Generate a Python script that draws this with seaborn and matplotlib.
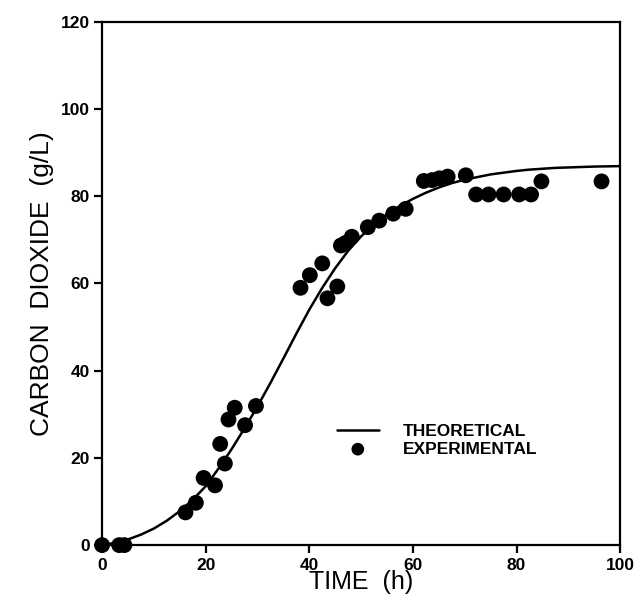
import numpy as np
import pandas as pd
import matplotlib
matplotlib.use("Agg")
import matplotlib.pyplot as plt
import seaborn as sns

# -----------------------------
# Data
# -----------------------------
exp_time = [0, 3.3, 4.3, 16.1, 18.1, 19.6, 21.8, 22.8, 23.7, 24.4, 25.6, 27.6, 29.7,
            38.3, 40.1, 42.5, 43.5, 45.4, 46.1, 47.0, 48.2, 51.3, 53.5, 56.2, 58.6,
            62.1, 63.7, 65.1, 66.7, 70.2, 72.2, 74.6, 77.5, 80.5, 82.8, 84.8, 96.4]
exp_co2 = [0, 0, 0, 7.5, 9.7, 15.4, 13.7, 23.2, 18.7, 28.8, 31.5, 27.5, 31.9,
           59.0, 61.9, 64.6, 56.6, 59.3, 68.7, 69.3, 70.7, 72.9, 74.4, 76.0, 77.1,
           83.5, 83.7, 84.1, 84.5, 84.8, 80.4, 80.4, 80.4, 80.4, 80.4, 83.4, 83.4]

theo_time = [0, 2.5, 5, 7.5, 10, 12.5, 15, 17.5, 20, 22.5, 25, 27.5, 30, 32.5, 35,
             37.5, 40, 42.5, 45, 47.5, 50, 52.5, 55, 57.5, 60, 62.5, 65, 67.5, 70,
             72.5, 75, 77.5, 80, 82.5, 85, 87.5, 90, 92.5, 95, 97.5, 100]
theo_co2 = [0, 0.5, 1.3, 2.4, 3.8, 5.6, 7.8, 10.4, 13.5, 17.6, 22.0, 26.8, 31.8, 37.2, 42.8,
            48.5, 54.0, 59.0, 63.5, 67.5, 70.8, 73.6, 75.9, 77.8, 79.4, 80.8, 82.0, 83.0, 83.8,
            84.4, 85.0, 85.4, 85.8, 86.1, 86.3, 86.5, 86.6, 86.7, 86.8, 86.85, 86.9]

exp_df = pd.DataFrame({"time": exp_time, "co2": exp_co2})
theo_df = pd.DataFrame({"time": theo_time, "co2": theo_co2})

# -----------------------------
# Plot Settings
# -----------------------------
sns.set_style("ticks")
plt.rcParams["font.family"] = ["Liberation Sans", "DejaVu Sans"]
plt.rcParams["text.color"] = "black"
plt.rcParams["axes.labelcolor"] = "black"
plt.rcParams["xtick.color"] = "black"
plt.rcParams["ytick.color"] = "black"

fig = plt.figure(figsize=(6.42, 6.05), dpi=100)
ax = fig.add_axes([0.159, 0.099, 0.807, 0.865])

sns.lineplot(data=theo_df, x="time", y="co2", ax=ax, color="black",
             linewidth=1.8, label="THEORETICAL")
sns.scatterplot(data=exp_df, x="time", y="co2", ax=ax, color="black",
                s=130, edgecolor="none", label="EXPERIMENTAL", clip_on=False, zorder=3)

ax.set_xlim(0, 100)
ax.set_ylim(0, 120)
ax.set_xticks(range(0, 101, 20))
ax.set_yticks(range(0, 121, 20))

for side in ["left", "bottom", "right", "top"]:
    ax.spines[side].set_visible(True)
    ax.spines[side].set_linewidth(1.6)
    ax.spines[side].set_color("black")

ax.tick_params(axis="both", direction="out", length=6, width=1.6,
               labelsize=12.5, colors="black", pad=3)
for lbl in ax.get_xticklabels() + ax.get_yticklabels():
    lbl.set_fontweight("bold")

ax.set_xlabel("TIME  (h)", fontsize=18, labelpad=-2)
ax.set_ylabel("CARBON  DIOXIDE  (g/L)", fontsize=19, labelpad=5)

leg = ax.legend(loc="upper left", bbox_to_anchor=(0.44, 0.245), frameon=False,
                fontsize=12.5, handlelength=2.4, handletextpad=1.4,
                labelspacing=0.15, borderaxespad=0, markerscale=0.8)
for t in leg.get_texts():
    t.set_fontweight("bold")
    t.set_color("black")

plt.savefig("out.png", dpi=100)
